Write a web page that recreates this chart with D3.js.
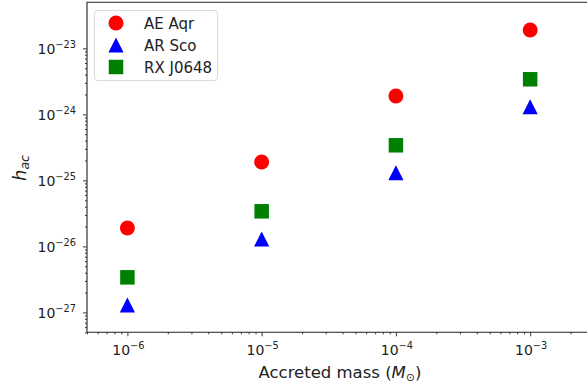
<!DOCTYPE html>
<html>
<head>
<meta charset="utf-8">
<script src="https://cdn.jsdelivr.net/npm/d3@7"></script>
<style>
  body { margin: 0; background: #fff; }
  svg { display: block; font-family: 'DejaVu Sans', sans-serif; }
</style>
</head>
<body>
<div id="app"></div>
<script>
// data
const accretedMass = [1e-6, 1e-5, 1e-4, 1e-3]
const aeAqr = [1.9e-26, 1.9e-25, 1.9e-24, 1.9e-23]
const arSco = [1.3e-27, 1.3e-26, 1.3e-25, 1.3e-24]
const rxJ0648 = [3.4e-27, 3.4e-26, 3.4e-25, 3.4e-24]
const xTicks = [1e-6, 1e-5, 1e-4, 1e-3]
const yTicks = [1e-27, 1e-26, 1e-25, 1e-24, 1e-23]

const series = [
  { name: 'AE Aqr', values: aeAqr, color: '#ff0000', shape: 'circle' },
  { name: 'AR Sco', values: arSco, color: '#0000ff', shape: 'triangle' },
  { name: 'RX J0648', values: rxJ0648, color: '#008000', shape: 'square' },
]

const W = 587, H = 385
const svg = d3.select('#app').append('svg').attr('width', W).attr('height', H)

const x = d3.scaleLog().domain([5e-7, 5e-3]).range([87, 624])
const y = d3.scaleLog().domain([5e-28, 5e-23]).range([332.3, 2.2])

const minor = (lo, hi) => {
  const out = []
  for (let e = lo; e <= hi; e++) for (let m = 2; m <= 9; m++) out.push(m * Math.pow(10, e))
  return out
}

// axes
const xAxis = svg.append('g').attr('transform', `translate(0,${y.range()[0]})`)
xAxis.call(d3.axisBottom(x).tickValues(minor(-7, -3).filter(v => v >= 5e-7 && v <= 5e-3)).tickSize(2).tickFormat(''))
xAxis.append('g').call(d3.axisBottom(x).tickValues(xTicks).tickSize(4).tickFormat(''))
xAxis.selectAll('.domain').remove()

const yAxis = svg.append('g').attr('transform', `translate(${x.range()[0]},0)`)
yAxis.call(d3.axisLeft(y).tickValues(minor(-28, -24).filter(v => v >= 5e-28 && v <= 5e-23)).tickSize(2).tickFormat(''))
yAxis.append('g').call(d3.axisLeft(y).tickValues(yTicks).tickSize(4).tickFormat(''))
yAxis.selectAll('.domain').remove()
svg.selectAll('.tick line').attr('stroke', '#222').attr('stroke-width', 0.9)

// spines
svg.append('path')
  .attr('d', `M${x.range()[1]},${y.range()[1]}H${x.range()[0]}V${y.range()[0]}H${x.range()[1]}`)
  .attr('fill', 'none').attr('stroke', '#222').attr('stroke-width', 1.1)

// tick labels with superscripts
const expLabel = (sel, v) => {
  sel.append('tspan').text('10')
  sel.append('tspan').attr('dy', -6.5).attr('font-size', 9.8).text('\u2212' + Math.round(-Math.log10(v)))
}
xTicks.forEach(v => {
  svg.append('text').attr('x', x(v) + 1).attr('y', 355).attr('text-anchor', 'middle')
    .attr('font-size', 14).attr('fill', '#222').call(expLabel, v)
})
yTicks.forEach(v => {
  svg.append('text').attr('x', 76).attr('y', y(v) + 6).attr('text-anchor', 'end')
    .attr('font-size', 14).attr('fill', '#222').call(expLabel, v)
})

// axis titles
const xl = svg.append('text').attr('x', 340).attr('y', 378).attr('text-anchor', 'middle')
  .attr('font-size', 16.5).attr('fill', '#222')
xl.append('tspan').text('Accreted mass (')
xl.append('tspan').attr('font-style', 'italic').text('M')
xl.append('tspan').attr('font-size', 11).attr('dy', 3).text('\u2299')
xl.append('tspan').attr('dy', -3).text(')')

const yl = svg.append('text').attr('transform', 'translate(26,168) rotate(-90)').attr('text-anchor', 'middle')
  .attr('font-size', 18).attr('font-style', 'italic').attr('fill', '#222')
yl.append('tspan').text('h')
yl.append('tspan').attr('font-size', 12.5).attr('dy', 3).text('ac')

// markers
const symbolFor = {
  circle: d3.symbol().type(d3.symbolCircle).size(Math.PI * 7.5 * 7.5),
  square: d3.symbol().type(d3.symbolSquare).size(14.5 * 14.5),
}
const drawMarker = (g, shape, color, cx, cy) => {
  if (shape === 'triangle') {
    g.append('path').attr('d', `M${cx},${cy - 7.5}L${cx + 7.6},${cy + 7.5}L${cx - 7.6},${cy + 7.5}Z`).attr('fill', color)
  } else {
    g.append('path').attr('d', symbolFor[shape]()).attr('transform', `translate(${cx},${cy})`).attr('fill', color)
  }
}

const plot = svg.append('g')
series.forEach(s => {
  s.values.forEach((v, i) => drawMarker(plot, s.shape, s.color, x(accretedMass[i]), y(v)))
})

// legend
const legend = svg.append('g')
legend.append('rect').attr('x', 94.5).attr('y', 10.5).attr('width', 123).attr('height', 70).attr('rx', 3)
  .attr('fill', '#fff').attr('fill-opacity', 0.8).attr('stroke', '#d9d9d9')
series.forEach((s, i) => {
  const ly = 23 + i * 22
  drawMarker(legend, s.shape, s.color, 116, ly)
  legend.append('text').attr('x', 144).attr('y', ly + 5.5).attr('font-size', 15).attr('fill', '#222').text(s.name)
})
</script>
</body>
</html>
